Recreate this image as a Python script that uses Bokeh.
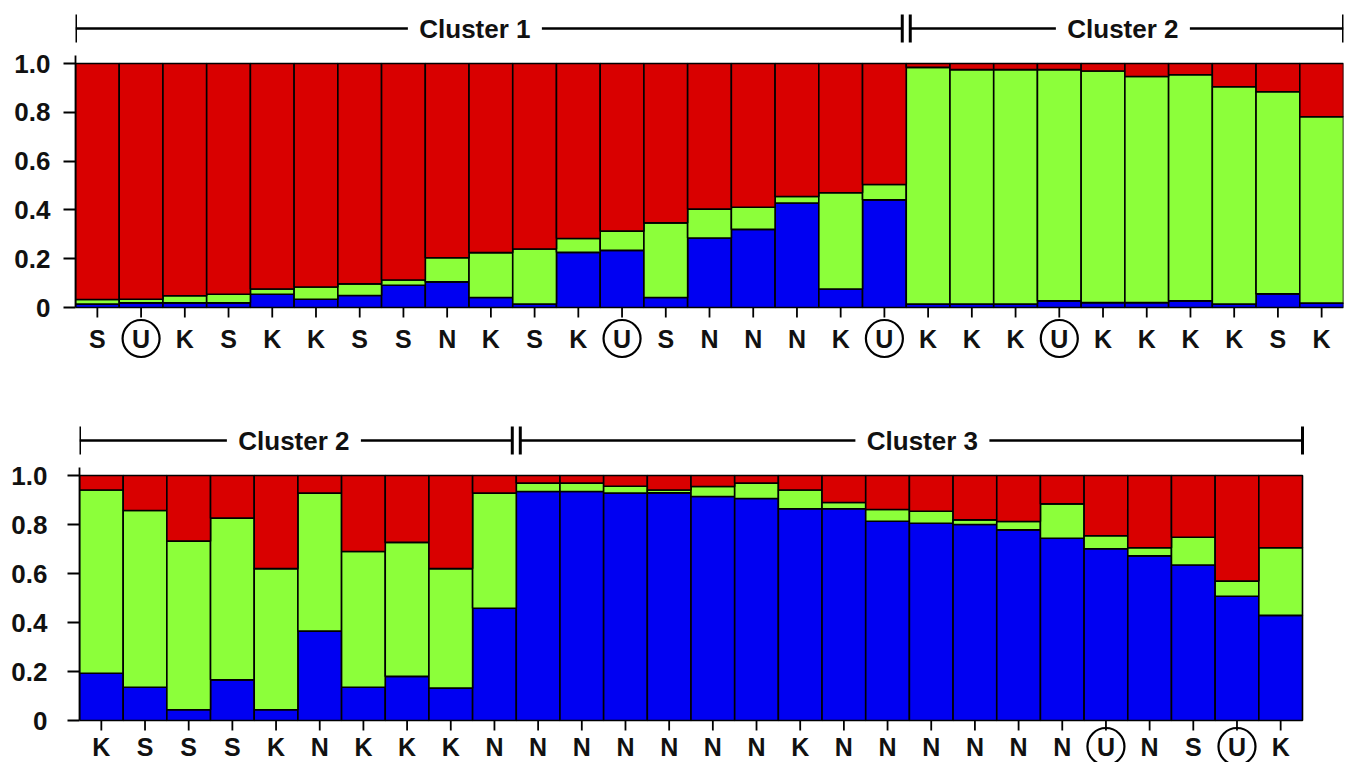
from bokeh.plotting import figure
from bokeh.models import Range1d, FixedTicker, ColumnDataSource
from bokeh.core.properties import value
from bokeh.embed import file_html
from bokeh.resources import INLINE

# ---------------- data ----------------
top_labels = ["S", "U", "K", "S", "K", "K", "S", "S", "N", "K", "S", "K", "U", "S", "N",
              "N", "N", "K", "U", "K", "K", "K", "U", "K", "K", "K", "K", "S", "K"]
top_blue = [0.014, 0.019, 0.019, 0.019, 0.054, 0.034, 0.049, 0.091, 0.105, 0.041, 0.014,
            0.226, 0.234, 0.041, 0.285, 0.320, 0.428, 0.076, 0.441, 0.014, 0.014, 0.014,
            0.027, 0.020, 0.020, 0.027, 0.014, 0.056, 0.018]
top_green = [0.019, 0.015, 0.029, 0.035, 0.022, 0.050, 0.048, 0.022, 0.099, 0.184, 0.226,
             0.057, 0.079, 0.306, 0.118, 0.091, 0.027, 0.394, 0.063, 0.970, 0.961, 0.961,
             0.948, 0.949, 0.927, 0.927, 0.891, 0.828, 0.764]
top_red = [0.967, 0.966, 0.952, 0.946, 0.924, 0.916, 0.903, 0.887, 0.796, 0.775, 0.760,
           0.717, 0.687, 0.653, 0.597, 0.589, 0.545, 0.530, 0.496, 0.016, 0.025, 0.025,
           0.025, 0.031, 0.053, 0.046, 0.095, 0.116, 0.218]
top_clusters = ["Cluster 1", "Cluster 2"]
top_cluster_sizes = [19, 10]

bot_labels = ["K", "S", "S", "S", "K", "N", "K", "K", "K", "N", "N", "N", "N", "N",
              "N", "N", "K", "N", "N", "N", "N", "N", "N", "U", "N", "S", "U", "K"]
bot_blue = [0.193, 0.136, 0.044, 0.166, 0.044, 0.365, 0.136, 0.180, 0.132, 0.458, 0.935,
            0.935, 0.928, 0.929, 0.914, 0.906, 0.864, 0.864, 0.813, 0.805, 0.800, 0.778,
            0.744, 0.701, 0.672, 0.635, 0.507, 0.429]
bot_green = [0.748, 0.721, 0.688, 0.660, 0.576, 0.563, 0.554, 0.547, 0.488, 0.470, 0.034,
             0.034, 0.028, 0.012, 0.041, 0.063, 0.077, 0.026, 0.048, 0.049, 0.019, 0.034,
             0.140, 0.053, 0.033, 0.113, 0.062, 0.276]
bot_red = [0.059, 0.143, 0.268, 0.174, 0.380, 0.072, 0.310, 0.273, 0.380, 0.072, 0.031,
           0.031, 0.044, 0.059, 0.045, 0.031, 0.059, 0.110, 0.139, 0.146, 0.181, 0.188,
           0.116, 0.246, 0.295, 0.252, 0.431, 0.295]
bot_clusters = ["Cluster 2", "Cluster 3"]
bot_cluster_sizes = [10, 18]

y_ticks = [0, 0.2, 0.4, 0.6, 0.8, 1.0]
y_tick_labels = ["0", "0.2", "0.4", "0.6", "0.8", "1.0"]

# ---------------- style ----------------
BLUE = "#0000F2"
GREEN = "#8CFF3A"
RED = "#D90000"
FONT = "Liberation Sans"
W = 1351


def make_panel(labels, blue, green, red, clusters, sizes, height, left, ppu_y,
               y_top, y_bottom, x_right_units, ppu_x, text_offsets, label_px, standoff):
    n = len(labels)
    p = figure(width=W, height=height, output_backend="svg", toolbar_location=None,
               x_range=Range1d(0, x_right_units), y_range=Range1d(y_bottom, y_top),
               x_axis_location=None, min_border_left=left, min_border_right=8,
               min_border_top=0, min_border_bottom=0)
    p.outline_line_color = None
    p.xgrid.visible = False
    p.ygrid.visible = False
    p.background_fill_color = "white"
    p.border_fill_color = "white"

    xs = [i + 0.5 for i in range(n)]
    src = ColumnDataSource(dict(x=xs, blue=blue, green=green, red=red, lab=labels))
    p.vbar_stack(["blue", "green", "red"], x="x", width=1.0, source=src,
                 fill_color=[BLUE, GREEN, RED], line_color="black", line_width=1.6)

    # y axis
    ax = p.yaxis[0]
    ax.axis_label = None
    ax.axis_label_standoff = 0
    ax.ticker = FixedTicker(ticks=y_ticks)
    ax.major_label_overrides = {t: l for t, l in zip(y_ticks, y_tick_labels)}
    ax.bounds = (0, 1 + 8 / ppu_y)
    ax.axis_line_width = 1.8
    ax.axis_line_color = "black"
    ax.major_tick_line_width = 1.8
    ax.major_tick_line_color = "black"
    ax.major_tick_out = 12
    ax.major_tick_in = 0
    ax.minor_tick_line_color = None
    ax.major_label_standoff = standoff
    ax.major_label_text_font = FONT
    ax.major_label_text_font_style = "bold"
    ax.major_label_text_font_size = "26px"
    ax.major_label_text_color = "#111111"

    # x ticks and category labels
    tick_len = 10 / ppu_y
    p.segment(x0=xs, y0=[0] * n, x1=xs, y1=[-tick_len] * n, line_color="black",
              line_width=1.8)
    label_y = -label_px / ppu_y
    p.text(x="x", y=label_y, text="lab", source=src, text_align="center",
           text_baseline="middle", text_font=value(FONT), text_font_size="25px",
           text_font_style="bold", text_color="#111111")
    ux = [x for x, l in zip(xs, labels) if l == "U"]
    p.scatter(x=ux, y=[label_y] * len(ux), marker="circle", size=37, fill_color=None,
              line_color="black", line_width=2.2)

    # cluster brackets
    by = 1 + 35 / ppu_y
    bh = 14 / ppu_y
    half_gap = 4 / ppu_x
    text_half = 67 / ppu_x
    start = 0
    spans = []
    for size in sizes:
        spans.append((start, start + size))
        start += size
    for k, (name, (s, e)) in enumerate(zip(clusters, spans)):
        s_line = s + (half_gap if k > 0 else 0)
        e_line = e - (half_gap if k < len(clusters) - 1 else 0)
        tc = (s + e) / 2 + text_offsets[k] / ppu_x
        p.segment(x0=[s_line, tc + text_half], y0=[by, by],
                  x1=[tc - text_half, e_line], y1=[by, by],
                  line_color="black", line_width=2.6)
        p.segment(x0=[s_line, e_line], y0=[by - bh, by - bh], x1=[s_line, e_line],
                  y1=[by + bh, by + bh], line_color="black", line_width=3)
        p.text(x=[tc], y=[by], text=[name], text_align="center", text_baseline="middle",
               text_font=value(FONT), text_font_size="26px", text_font_style="bold",
               text_color="#111111")
    return p


# top panel: 1.0 at y=63, 0 at y=307 (page px); frame left x=75
ppu_y1 = 244.0
ppu_x1 = (1343 - 75) / 29.0
p1 = make_panel(top_labels, top_blue, top_green, top_red, top_clusters, top_cluster_sizes,
                height=400, left=75, ppu_y=ppu_y1,
                y_top=307 / ppu_y1, y_bottom=(307 - 400) / ppu_y1,
                x_right_units=(1343 - 75) / ppu_x1, ppu_x=ppu_x1,
                text_offsets=[-16, -2], label_px=31, standoff=13)

# bottom panel: 1.0 at y=475, 0 at y=720; frame left x=79
ppu_y2 = 245.0
ppu_x2 = (1302 - 79) / 28.0
p2 = make_panel(bot_labels, bot_blue, bot_green, bot_red, bot_clusters, bot_cluster_sizes,
                height=362, left=79, ppu_y=ppu_y2,
                y_top=(720 - 400) / ppu_y2, y_bottom=(720 - 762) / ppu_y2,
                x_right_units=(1343 - 79) / ppu_x2, ppu_x=ppu_x2,
                text_offsets=[-4, 13], label_px=26, standoff=20)

open("out.html", "w").write(file_html([p1, p2], INLINE))
